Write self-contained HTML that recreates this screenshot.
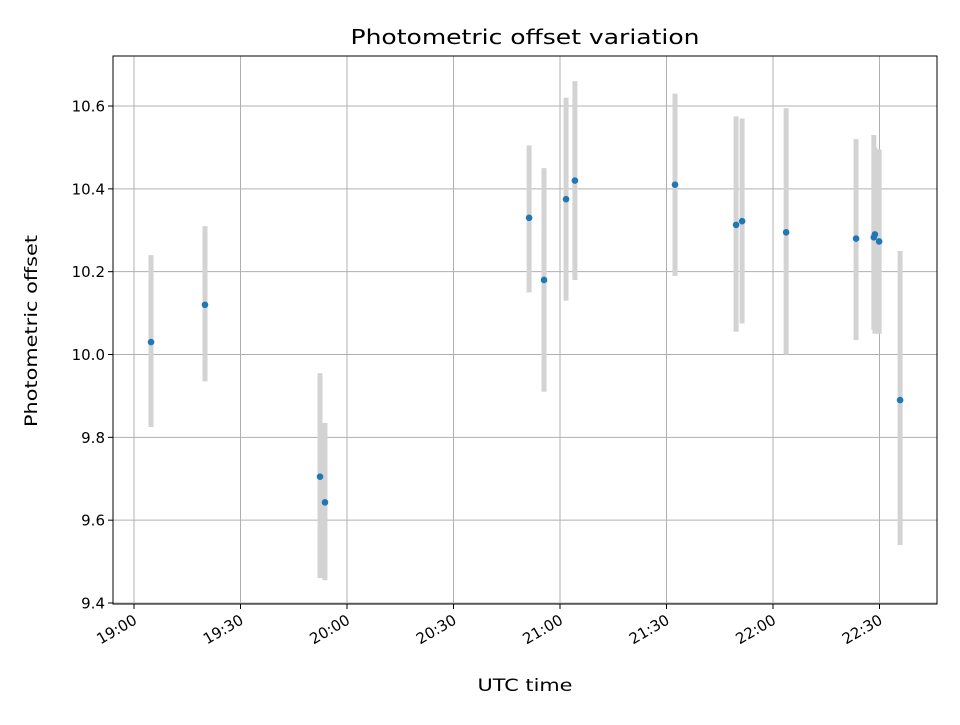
<!DOCTYPE html>
<html><head><meta charset="utf-8"><style>
body{margin:0;background:#fff;font-family:"Liberation Sans","DejaVu Sans",sans-serif}
svg text{font-family:"DejaVu Sans","Liberation Sans",sans-serif;fill:#000}
</style></head><body>
<svg id="chart" width="960" height="720" viewBox="0 0 960 720" xmlns="http://www.w3.org/2000/svg">
<rect width="960" height="720" fill="#fff"/>
<text x="525" y="44" style="font-size:20px" text-anchor="middle" textLength="349" lengthAdjust="spacingAndGlyphs">Photometric offset variation</text>
<g id="grid"></g><g id="bars"></g><g id="pts"></g><g id="axes"></g>
<text x="525" y="691" style="font-size:17px" text-anchor="middle" textLength="95" lengthAdjust="spacingAndGlyphs">UTC time</text>
<text x="37" y="331" style="font-size:17px" text-anchor="middle" textLength="192" lengthAdjust="spacingAndGlyphs" transform="rotate(-90 37 331)">Photometric offset</text>
</svg>
<script>
const minutes=[4.8,20,52.4,53.8,111.3,115.5,121.7,124.2,152.4,169.6,171.3,183.7,203.4,208.4,208.7,209.9,215.8];
const values=[10.03,10.12,9.705,9.643,10.33,10.18,10.375,10.42,10.41,10.313,10.322,10.295,10.28,10.283,10.29,10.273,9.89];
const lows=[9.825,9.935,9.46,9.455,10.15,9.91,10.13,10.18,10.19,10.055,10.075,10.0,10.035,10.06,10.05,10.05,9.54];
const highs=[10.24,10.31,9.955,9.835,10.505,10.45,10.62,10.66,10.63,10.575,10.57,10.595,10.52,10.53,10.5,10.495,10.25];
const yTicks=[9.4,9.6,9.8,10.0,10.2,10.4,10.6];
const xTicks=[0,30,60,90,120,150,180,210];
const xLabels=["19:00","19:30","20:00","20:30","21:00","21:30","22:00","22:30"];
const L=113,R=937,T=56,B=604;
const xs=m=>134+m*(106.5/30);
const ys=v=>603-(v-9.4)*(82.83/0.2);
const NS="http://www.w3.org/2000/svg";
function mk(tag,attrs,parent){const e=document.createElementNS(NS,tag);for(const k in attrs)e.setAttribute(k,attrs[k]);document.getElementById(parent).appendChild(e);return e;}
yTicks.forEach((t,i)=>{const y=ys(t);
 const g=mk('line',{x1:L,x2:R,y1:y,y2:y,stroke:'#b0b0b0','stroke-width':1},'grid');
 
 
 mk('line',{x1:L-5,x2:L,y1:y,y2:y,stroke:'#000'},'axes');
 const tx=mk('text',{x:L-8,y:y+5.5,style:'font-size:15px','text-anchor':'end'},'axes');tx.textContent=t.toFixed(1);
 
 
});
xTicks.forEach((t,i)=>{const x=xs(t);
 const g=mk('line',{x1:x,x2:x,y1:T,y2:B,stroke:'#b0b0b0','stroke-width':1},'grid');
 
 
 mk('line',{x1:x,x2:x,y1:B,y2:B+5,stroke:'#000'},'axes');
 const tx=mk('text',{x:x+4,y:B+19,style:'font-size:15px','text-anchor':'end',transform:`rotate(-30 ${x+4} ${B+19})`},'axes');tx.textContent=xLabels[i];
 
 
});
const fr=mk('rect',{x:L,y:T,width:R-L,height:B-T,fill:'none',stroke:'#000','stroke-width':1},'axes');


minutes.forEach((m,i)=>{const x=xs(m);
 const b=mk('line',{x1:x,x2:x,y1:ys(lows[i]),y2:ys(highs[i]),stroke:'#d3d3d3','stroke-width':5},'bars');
 
 
 const p=mk('circle',{cx:x,cy:ys(values[i]),r:3.3,fill:'#1f77b4'},'pts');
 
 
});
</script>
</body></html>
